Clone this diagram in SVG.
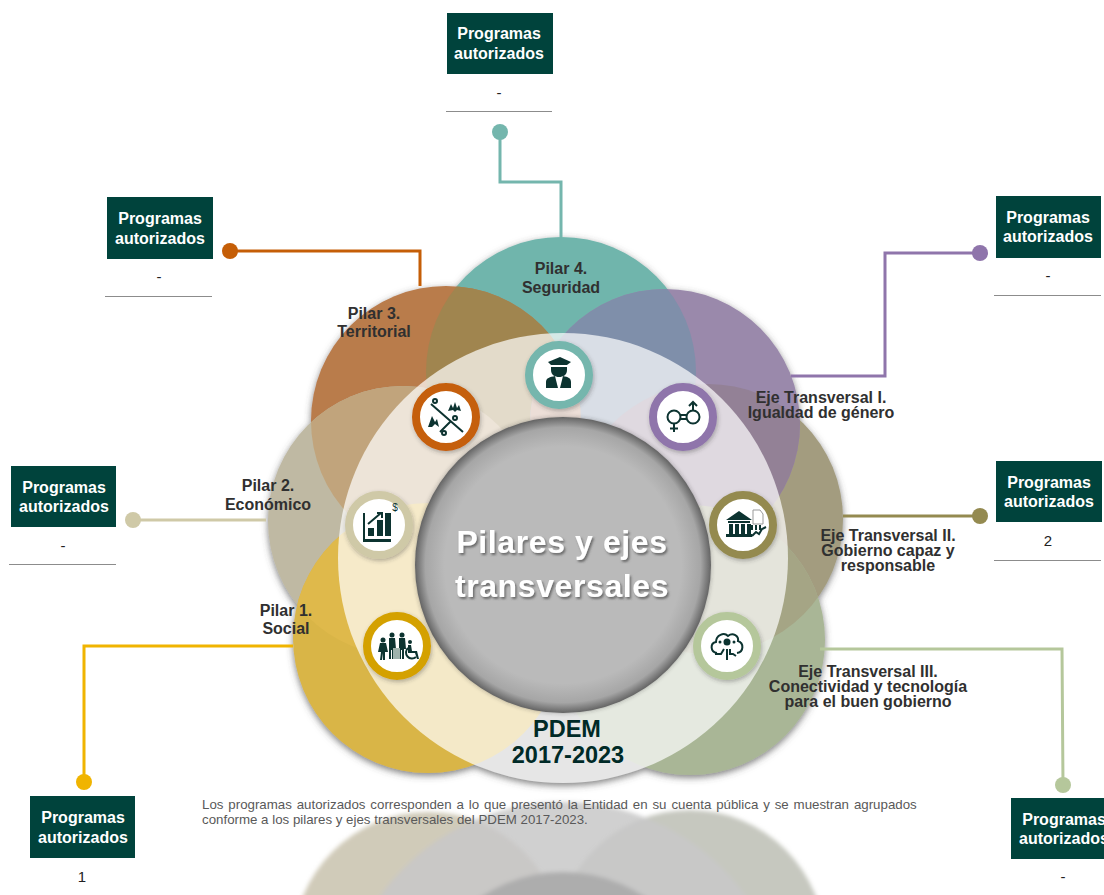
<svg xmlns="http://www.w3.org/2000/svg" xmlns:xlink="http://www.w3.org/1999/xlink" width="1104" height="895" viewBox="0 0 1104 895">
<style>
text{font-family:"Liberation Sans",Arial,sans-serif}
.box{fill:#00433c}
.bt{fill:#fff;font-weight:700;font-size:16px;text-anchor:middle}
.val{fill:#222;font-size:15px;text-anchor:middle}
.ul{stroke:#8c8c8c;stroke-width:1;fill:none}
.lb{fill:#303030;font-weight:700;font-size:16px;text-anchor:middle}
.c{fill:none;stroke-width:3}
.ic{fill:#0c3330}
.is{fill:none;stroke:#0c3330;stroke-width:2}
</style>
<defs>
<filter id="sh" x="-20%" y="-20%" width="140%" height="140%"><feDropShadow dx="0" dy="2.5" stdDeviation="3.5" flood-color="#444" flood-opacity=".7"/></filter>
<filter id="ics" x="-30%" y="-30%" width="160%" height="160%"><feDropShadow dx="1" dy="2" stdDeviation="2" flood-color="#333" flood-opacity=".35"/></filter>
<filter id="ts" x="-10%" y="-20%" width="120%" height="140%"><feDropShadow dx="1.5" dy="2" stdDeviation="1" flood-color="#444" flood-opacity=".7"/></filter>
<filter id="cs" x="-10%" y="-10%" width="120%" height="120%"><feDropShadow dx="0" dy="0" stdDeviation="2" flood-color="#333" flood-opacity=".4"/></filter>
<filter id="soft" x="-10%" y="-10%" width="120%" height="120%"><feGaussianBlur stdDeviation="2"/></filter>
<radialGradient id="hub"><stop offset=".8" stop-color="#bababa"/><stop offset=".93" stop-color="#a6a6a6"/><stop offset="1" stop-color="#646464"/></radialGradient>
<circle id="cT" cx="561" cy="372" r="135"/>
<circle id="cO" cx="446" cy="421" r="135"/>
<circle id="cE" cx="403" cy="521" r="135"/>
<circle id="cY" cx="428" cy="638" r="135"/>
<circle id="cG" cx="690" cy="640" r="135"/>
<circle id="cL" cx="708" cy="519" r="135"/>
<circle id="cP" cx="665" cy="424" r="135"/>
<clipPath id="kT"><use xlink:href="#cT"/></clipPath>
<clipPath id="kO"><use xlink:href="#cO"/></clipPath>
<clipPath id="kE"><use xlink:href="#cE"/></clipPath>
<clipPath id="kL"><use xlink:href="#cL"/></clipPath>
<g id="petals">
<circle cx="563" cy="558" r="225" fill="#acacac"/>
<use xlink:href="#cT" fill="#70b5ac"/>
<use xlink:href="#cL" fill="#a39c7f"/>
<use xlink:href="#cP" fill="#9a89ab"/>
<use xlink:href="#cO" fill="#b97b4c"/>
<use xlink:href="#cE" fill="#bfb9a3"/>
<use xlink:href="#cY" fill="#d9b547"/>
<use xlink:href="#cG" fill="#a9b696"/>
<g clip-path="url(#kT)"><use xlink:href="#cO" fill="#a08550"/><use xlink:href="#cP" fill="#7f8faa"/></g>
<g clip-path="url(#kO)"><use xlink:href="#cE" fill="#c1a47b"/><use xlink:href="#cP" fill="#c09078"/></g>
<g clip-path="url(#kE)"><use xlink:href="#cY" fill="#dfb94c"/></g>
<g clip-path="url(#kL)"><use xlink:href="#cP" fill="#938196"/></g>
<g clip-path="url(#kL)"><use xlink:href="#cG" fill="#a5a585"/></g>
</g>
</defs>
<rect width="1104" height="895" fill="#fff"/>
<g id="reflection">
<g filter="url(#soft)">
<circle cx="428" cy="947" r="135" fill="#d0cbb9"/>
<circle cx="690" cy="945" r="135" fill="#c6c8bf"/>
<circle cx="563" cy="1027" r="225" fill="#c8c8c8" fill-opacity=".85"/>
<circle cx="563" cy="1020" r="148" fill="#adadad"/>
</g>
</g>
<g id="footnote" fill="#595959" font-size="13.300">
<text x="202" y="809" word-spacing="1.170">Los programas autorizados corresponden a lo que presentó la Entidad en su cuenta pública y se muestran agrupados</text>
<text x="202" y="824">conforme a los pilares y ejes transversales del PDEM 2017-2023.</text>
</g>
<g id="diagram-base">
<use xlink:href="#petals" filter="url(#sh)"/>
<circle cx="563" cy="558" r="225" fill="#fff" fill-opacity=".7"/>
</g>
<g id="connectors">
<path class="c" stroke="#74b6ad" d="M500 132V182H561V237"/>
<circle cx="500" cy="132" r="8" fill="#74b6ad"/>
<path class="c" stroke="#c55e07" d="M230 251H420V286"/>
<circle cx="230" cy="251" r="8" fill="#c55e07"/>
<path class="c" stroke="#8f75ab" d="M980 253H885V376H791"/>
<circle cx="980" cy="253" r="8" fill="#8f75ab"/>
<path class="c" stroke="#948a50" d="M980 516H843"/>
<circle cx="980" cy="516" r="8" fill="#948a50"/>
<path class="c" stroke="#b5c79b" d="M1063 785L1062 649H820"/>
<circle cx="1063" cy="785" r="8" fill="#b5c79b"/>
<path class="c" stroke="#f0b400" d="M84 782V646H293"/>
<circle cx="84" cy="782" r="8" fill="#f0b400"/>
<path class="c" stroke="#cfc9a7" d="M133 520H266"/>
<circle cx="133" cy="520" r="8" fill="#cfc9a7"/>
</g>
<g id="hub">
<circle cx="563" cy="565" r="148" fill="url(#hub)" filter="url(#cs)"/>
<g filter="url(#ts)" fill="#fff" font-weight="700" font-size="32" text-anchor="middle" letter-spacing=".6">
<text x="562" y="553">Pilares y ejes</text>
<text x="562" y="597">transversales</text>
</g>
<g fill="#002a27" font-weight="700" font-size="23.500" text-anchor="middle">
<text x="567" y="737">PDEM</text>
<text x="568" y="763">2017-2023</text>
</g>
</g>
<g id="n-pilar4">
<circle cx="559" cy="375" r="30" fill="#fff" stroke="#74b6ad" stroke-width="8" filter="url(#ics)"/>
<g transform="translate(559 375)" class="ic"><path d="M-11-13L1-18 12-13 8-10H-8Z"/><path d="M-8-8H8V-5C8 0 4 2 0 2S-8 0-8-5Z"/><path d="M-13 13V7C-13 3-9 2-4 1L-1 13ZM1 13L4 1C9 2 12 3 12 7V13Z"/></g>
<text class="lb" x="561" y="274">Pilar 4.</text><text class="lb" x="561" y="293">Seguridad</text>
<rect class="box" x="447" y="13" width="106" height="61"/><text class="bt" x="499" y="39">Programas</text><text class="bt" x="499" y="59">autorizados</text>
<text class="val" x="499" y="98">-</text><path class="ul" d="M446 111.500H552"/>
</g>
<g id="n-pilar3">
<circle cx="446" cy="417" r="30" fill="#fff" stroke="#c55e07" stroke-width="8" filter="url(#ics)"/>
<g transform="translate(446 417)"><path class="is" d="M-15-13L17 15M-6 15L5 4"/><circle class="is" stroke-width="1.500" cx="-11" cy="-16" r="2"/><circle class="is" stroke-width="1.500" cx="9" cy="1" r="2"/><circle class="is" stroke-width="1.500" cx="-2" cy="16" r="2"/><path class="ic" d="M2-6L5-13 7-9 9-15 11-9 13-12 15-6 11-7 9-5 7-7Z"/><path class="ic" d="M-18 10L-14-1-11 5-9 2-7 10-11 7-14 10Z"/></g>
<text class="lb" x="374" y="319">Pilar 3.</text><text class="lb" x="374" y="337">Territorial</text>
<rect class="box" x="107" y="197" width="106" height="62"/><text class="bt" x="160" y="224">Programas</text><text class="bt" x="160" y="244">autorizados</text>
<text class="val" x="159" y="282">-</text><path class="ul" d="M105 296.500H212"/>
</g>
<g id="n-pilar2">
<circle cx="379" cy="525" r="30" fill="#fff" stroke="#cfc9a7" stroke-width="8" filter="url(#ics)"/>
<g transform="translate(379 525)"><path class="ic" d="M-16-12H-14V14H12V17H-16ZM-11 3H-5V11H-11ZM-2-5H4V11H-2ZM6-12H12V11H6Z"/><path class="is" stroke-width="1.500" d="M-11-1L2-12M-2-12H3V-7"/><text x="16" y="-14" font-size="10" fill="#0c3330" text-anchor="middle">$</text></g>
<text class="lb" x="268" y="491">Pilar 2.</text><text class="lb" x="268" y="510">Económico</text>
<rect class="box" x="11" y="466" width="105" height="61"/><text class="bt" x="64" y="493">Programas</text><text class="bt" x="64" y="512">autorizados</text>
<text class="val" x="63" y="551">-</text><path class="ul" d="M9 564.500H116"/>
</g>
<g id="n-pilar1">
<circle cx="397" cy="646" r="30" fill="#fff" stroke="#d4a104" stroke-width="8" filter="url(#ics)"/>
<g transform="translate(397 646)" class="ic"><circle cx="-14" cy="-6" r="2.500"/><path d="M-17-3H-11L-9 6H-12V14H-14V7L-15 14H-17L-16 6H-19Z"/><circle cx="-5" cy="-11" r="2.500"/><path d="M-8-8H-2L-1 3H-3V13H-5V4H-6V13H-8Z"/><circle cx="5" cy="-11" r="2.500"/><path d="M2-8H8L9 3H7V13H5V4H4V13H2Z"/><circle cx="13" cy="-4" r="2"/><path d="M11-1H14L15 5H20L22 13H20L18 7H11Z"/><path class="is" stroke-width="1.200" d="M11 2A6 6 0 1 0 19 11"/><rect x="-4" y="2" width="7" height="11" fill="#9fb3ad"/></g>
<text class="lb" x="286" y="616">Pilar 1.</text><text class="lb" x="286" y="634">Social</text>
<rect class="box" x="30" y="796" width="105" height="62"/><text class="bt" x="83" y="823">Programas</text><text class="bt" x="83" y="843">autorizados</text>
<text class="val" x="82" y="882">1</text>
</g>
<g id="n-eje1">
<circle cx="683" cy="417" r="30" fill="#fff" stroke="#8f75ab" stroke-width="8" filter="url(#ics)"/>
<g transform="translate(683 417)"><circle class="is" cx="-9" cy="0" r="6.500"/><circle class="is" cx="10" cy="0" r="6.500"/><path class="is" d="M-9 7V15M-13 11.500H-5M-3-2H4M-3 2H4M10-7V-15M6-11L10-15 14-11"/></g>
<text class="lb" x="821" y="403">Eje Transversal I.</text><text class="lb" x="821" y="418">Igualdad de género</text>
<rect class="box" x="996" y="196" width="105" height="62"/><text class="bt" x="1048" y="223">Programas</text><text class="bt" x="1048" y="242">autorizados</text>
<text class="val" x="1048" y="281">-</text><path class="ul" d="M994 295.500H1101"/>
</g>
<g id="n-eje2">
<circle cx="743" cy="525" r="30" fill="#fff" stroke="#948a50" stroke-width="8" filter="url(#ics)"/>
<g transform="translate(743 525)"><path class="ic" d="M-17-5L-4-14 9-5ZM-15-4H7V-2H-15ZM-14-1H-10V9H-14ZM-8-1H-4V9H-8ZM-2-1H2V9H-2ZM4-1H8V9H4ZM-17 9H9V12H-17Z"/><path d="M10-15H17L20-11V-1H10Z" fill="#fff" stroke="#999" stroke-width="1"/><path class="is" stroke-width="1.200" d="M9 11L13 7 16 9 19 4 23 2M9 5V0M13 5V0M17 5V0"/></g>
<text class="lb" x="888" y="541">Eje Transversal II.</text><text class="lb" x="888" y="556">Gobierno capaz y</text><text class="lb" x="888" y="571">responsable</text>
<rect class="box" x="996" y="461" width="106" height="61"/><text class="bt" x="1049" y="488">Programas</text><text class="bt" x="1049" y="507">autorizados</text>
<text class="val" x="1048" y="546">2</text><path class="ul" d="M994 560.500H1101"/>
</g>
<g id="n-eje3">
<circle cx="727" cy="646" r="30" fill="#fff" stroke="#b5c79b" stroke-width="8" filter="url(#ics)"/>
<g transform="translate(727 646)"><path class="is" stroke-width="2.200" d="M-10 7C-17 6-17-3-11-4C-11-11-3-14 1-10C6-14 12-10 11-5C17-3 17 6 10 7"/><circle class="ic" cx="0" cy="-4" r="3.500"/><circle class="ic" cx="-7" cy="-4" r="1.500"/><circle class="ic" cx="7" cy="-4" r="1.500"/><path class="is" stroke-width="1.800" d="M-12 8H-6L-3 3M0 3V14M3 3V8L6 8 9 10"/></g>
<text class="lb" x="868" y="677">Eje Transversal III.</text><text class="lb" x="868" y="692">Conectividad y tecnología</text><text class="lb" x="868" y="707">para el buen gobierno</text>
<rect class="box" x="1011" y="798" width="105" height="61"/><text class="bt" x="1064" y="825">Programas</text><text class="bt" x="1064" y="844">autorizados</text>
<text class="val" x="1063" y="882">-</text>
</g>
</svg>
